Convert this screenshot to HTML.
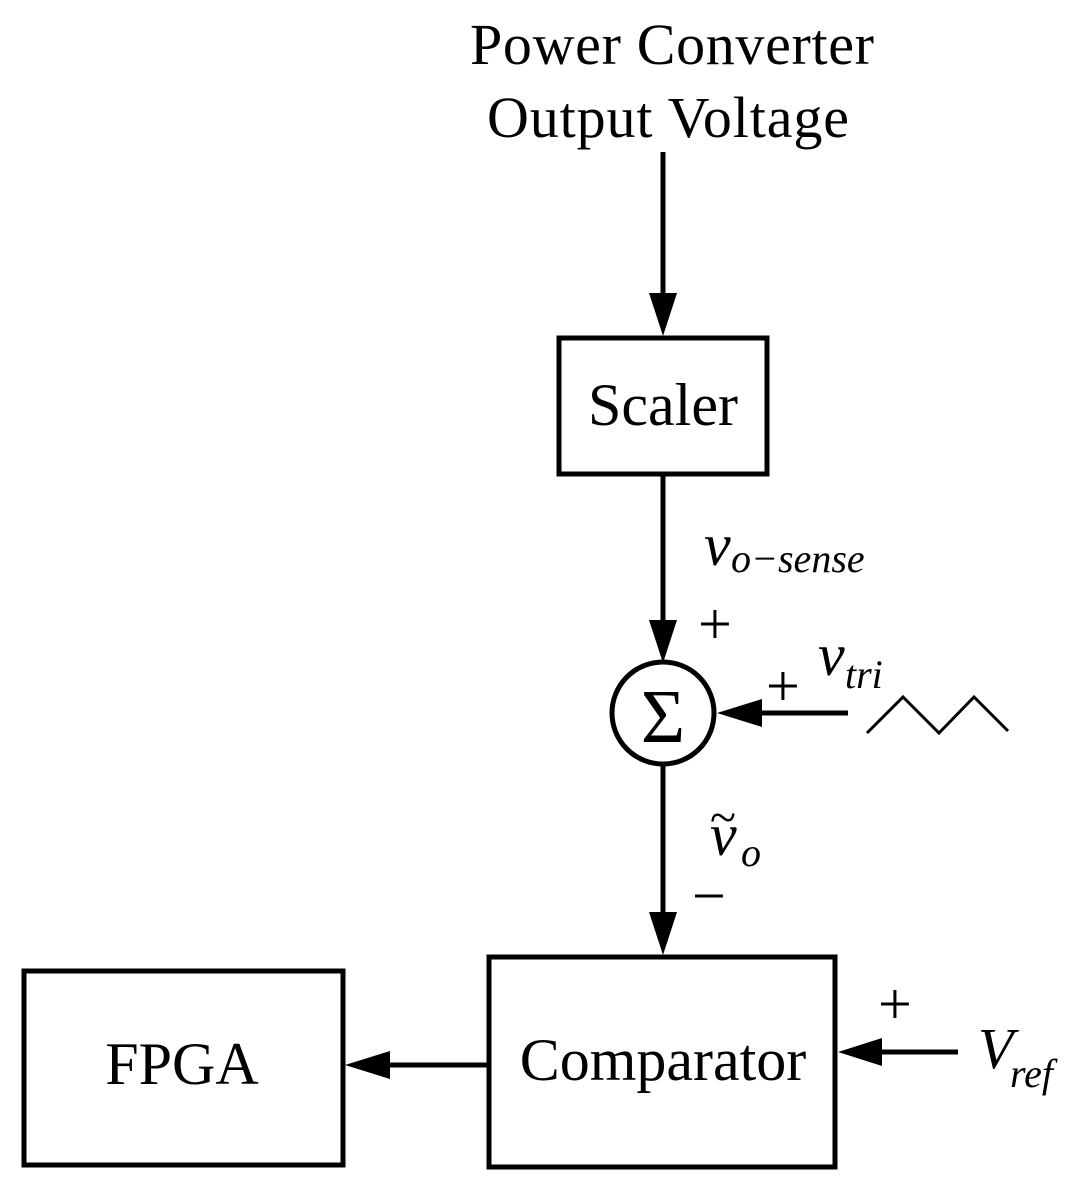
<!DOCTYPE html>
<html><head><meta charset="utf-8"><style>
body{margin:0;background:#fff}
svg{display:block}
text{font-family:"Liberation Serif",serif;fill:#000}
</style></head><body>
<svg width="1082" height="1190" viewBox="0 0 1082 1190" xmlns="http://www.w3.org/2000/svg">
<g stroke="#000" stroke-width="5" fill="none">
<rect x="559" y="338" width="208" height="136"/>
<rect x="489" y="957" width="346" height="210"/>
<rect x="24" y="971" width="319" height="194"/>
<circle cx="663" cy="713" r="51"/>
<line x1="663" y1="152" x2="663" y2="300"/>
<line x1="663" y1="474" x2="663" y2="625"/>
<line x1="663" y1="764" x2="663" y2="915"/>
<line x1="760" y1="713" x2="848" y2="713"/>
<line x1="487" y1="1065" x2="385" y2="1065"/>
<line x1="878" y1="1052" x2="958" y2="1052"/>
</g>
<g fill="#000">
<polygon points="649,293 677,293 663,336"/>
<polygon points="649,620 677,620 663,663"/>
<polygon points="649,912 677,912 663,955"/>
<polygon points="762,699 762,727 717,713"/>
<polygon points="390,1051 390,1079 345,1065"/>
<polygon points="882,1038 882,1066 838,1052"/>
</g>
<polyline points="867,733 903,697 939,733 974,697 1008,731" stroke="#000" stroke-width="3" fill="none"/>
<text x="672" y="64" font-size="58" text-anchor="middle" textLength="404">Power Converter</text>
<text x="668" y="137" font-size="58" text-anchor="middle" textLength="362">Output Voltage</text>
<text x="663" y="425" font-size="60" text-anchor="middle">Scaler</text>
<text x="663" y="1080" font-size="60" text-anchor="middle">Comparator</text>
<text x="182" y="1084" font-size="60" text-anchor="middle">FPGA</text>
<text x="663" y="742" font-size="76" text-anchor="middle">Σ</text>
<text x="704" y="565" font-size="60" font-style="italic">v</text>
<text x="731" y="572" font-size="40" font-style="italic">o−sense</text>
<text x="698" y="644" font-size="60">+</text>
<text x="766" y="706" font-size="60">+</text>
<text x="818" y="675" font-size="60" font-style="italic">v</text>
<text x="845" y="688" font-size="40" font-style="italic">tri</text>
<text x="710" y="855" font-size="60" font-style="italic">v</text>
<text x="710" y="833" font-size="48">~</text>
<text x="741" y="866" font-size="40" font-style="italic">o</text>
<text x="692" y="916" font-size="60">−</text>
<text x="878" y="1024" font-size="60">+</text>
<text x="978" y="1068" font-size="58" font-style="italic">V</text>
<text x="1010" y="1087" font-size="40" font-style="italic">ref</text>
</svg>
</body></html>
